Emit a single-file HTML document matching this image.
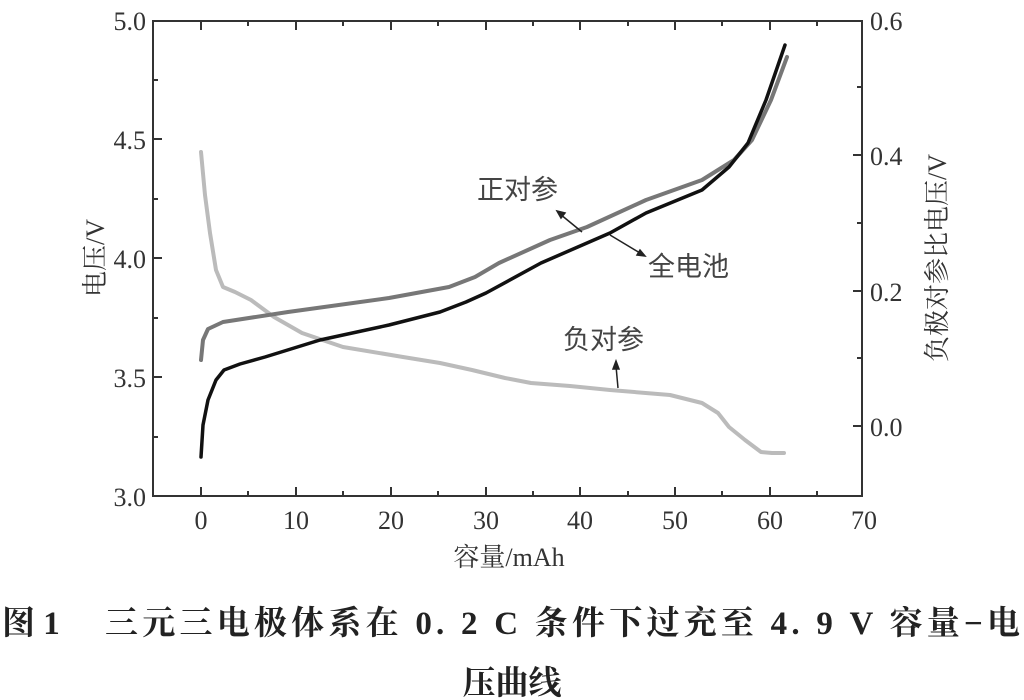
<!DOCTYPE html>
<html><head><meta charset="utf-8"><style>
body{margin:0;background:#fff;}
svg{display:block;}
.t{font-family:"Liberation Serif","Noto Serif CJK SC",serif;font-size:26px;fill:#333;}
.c{font-family:"Noto Sans CJK SC","WenQuanYi Zen Hei",sans-serif;font-size:27px;fill:#444;}
.cap{font-family:"Liberation Serif","Noto Serif CJK SC",serif;font-size:33px;font-weight:bold;fill:#222;}
</style></head><body>
<svg width="1024" height="700" viewBox="0 0 1024 700">
<rect x="153" y="21" width="709" height="475" fill="none" stroke="#333" stroke-width="2"/>
<g stroke="#333" stroke-width="2">
<path d="M201 496v-9M296 496v-9M391 496v-9M486 496v-9M580 496v-9M675 496v-9M770 496v-9M248 496v-5M343 496v-5M438 496v-5M533 496v-5M628 496v-5M722 496v-5M817 496v-5
M201 21v9M296 21v9M391 21v9M486 21v9M580 21v9M675 21v9M770 21v9M248 21v5M343 21v5M438 21v5M533 21v5M628 21v5M722 21v5M817 21v5
M153 139h9M153 258h9M153 377h9M153 80h5M153 199h5M153 318h5M153 437h5
M862 155h-9M862 291h-9M862 426h-9M862 87h-5M862 223h-5M862 358h-5"/>
</g>
<g class="t" text-anchor="end">
<text x="146" y="30">5.0</text><text x="146" y="149">4.5</text><text x="146" y="268">4.0</text><text x="146" y="387">3.5</text><text x="146" y="506">3.0</text>
</g>
<g class="t">
<text x="870" y="30">0.6</text><text x="870" y="165">0.4</text><text x="870" y="301">0.2</text><text x="870" y="436">0.0</text>
</g>
<g class="t" text-anchor="middle">
<text x="201" y="529">0</text><text x="296" y="529">10</text><text x="391" y="529">20</text><text x="486" y="529">30</text><text x="580" y="529">40</text><text x="675" y="529">50</text><text x="770" y="529">60</text><text x="864" y="529">70</text>
<text x="509" y="566">容量/mAh</text>
</g>
<text class="t" transform="translate(104,258) rotate(-90)" text-anchor="middle">电压/V</text>
<text class="t" transform="translate(946,258) rotate(-90)" text-anchor="middle">负极对参比电压/V</text>
<g fill="none" stroke-linejoin="round" stroke-linecap="round">
<path stroke="#bbb" stroke-width="4" d="M201 152 L205 195 L210 233 L216 270 L223 287 L235 292 L251 300 L274 317 L302 333 L343 347 L403 357 L440 363 L472 370 L505 378 L531 383 L570 386 L610 390 L670 395 L702 403 L718 413 L729 427 L745 440 L761 452 L772 453 L784 453"/>
<path stroke="#777" stroke-width="4" d="M201 360 L203 340 L208 329 L223 322 L288 312 L389 298 L449 287 L475 277 L499 263 L550 240 L587 227 L646 200 L702 180 L734 160 L752 140 L771 100 L787 57"/>
<path stroke="#111" stroke-width="3.5" d="M201 457 L203 425 L208 400 L216 380 L224 370 L240 364 L265 357 L320 340 L389 325 L440 312 L466 302 L486 293 L541 263 L610 233 L646 213 L702 190 L729 167 L748 143 L766 100 L785 45"/>
</g>
<g stroke="#222" stroke-width="1.5" fill="#222">
<path d="M582 232 L560 214" fill="none"/><path d="M557 211 l8 2 l-4 5z"/>
<path d="M610 235 L640 253" fill="none"/><path d="M645 256 l-8 -1 l3 -5z"/>
<path d="M618 388 L616 366" fill="none"/><path d="M616 361 l3 8 l-6 0z"/>
</g>
<text class="c" x="477" y="199">正对参</text>
<text class="c" x="648" y="276">全电池</text>
<text class="c" x="563" y="349">负对参</text>
<text class="cap" x="2" y="634">图 1</text>
<text class="cap" x="105" y="634" textLength="915" lengthAdjust="spacing">三元三电极体系在 0. 2 C 条件下过充至 4. 9 V 容量−电</text>
<text class="cap" x="512" y="694" text-anchor="middle">压曲线</text>
</svg>
</body></html>
